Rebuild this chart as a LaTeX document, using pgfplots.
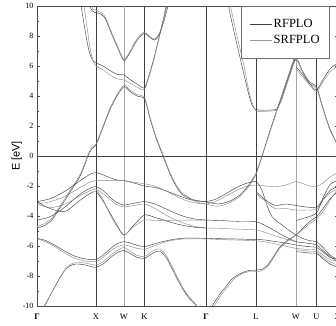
\documentclass[border=0pt]{standalone}
\usepackage{fontspec}
\setmainfont{Liberation Serif}
\newfontfamily\labelsans{Liberation Sans}
\usepackage{pgfplots}
\pgfplotsset{compat=1.18}
\pgfplotsset{
  R/.style={black!75, line width=0.45pt, smooth, tension=0.45, no marks, forget plot},
  S/.style={black!45, line width=0.45pt, smooth, tension=0.45, no marks, forget plot},
}
\begin{document}
\begin{tikzpicture}[x=1pt,y=1pt]
\useasboundingbox (0,0) rectangle (336,325);
\clip (0,0) rectangle (336,325);
\begin{axis}[
  at={(37pt,19pt)}, anchor=south west,
  width=300.5pt, height=300pt, scale only axis,
  xmin=37, xmax=337.5, ymin=-10, ymax=10,
  axis line style={black!70, line width=0.6pt},
  xtick={37,96,144.5,206,256,316.5,337.5},
  xticklabels={\textbf{Γ},X,K,\textbf{Γ},L,U,X},
  extra x ticks={124,296},
  extra x tick labels={W,W},
  extra x tick style={grid=major, major grid style={black!35, line width=0.9pt}},
  xmajorgrids, major grid style={black!75, line width=0.5pt},
  major x tick style={draw=none},
  xticklabel style={font=\fontsize{8.5}{9}\selectfont, yshift=-4pt},
  ytick={-10,-8,...,10},
  minor ytick={-9,-7,...,9},
  tick align=inside, major tick length=3pt, minor tick length=2pt,
  tick style={black!70},
  yticklabel style={font=\fontsize{8}{9}\selectfont},
  /pgf/number format/assume math mode=true,
  extra y ticks={0}, extra y tick labels={},
  extra y tick style={grid=major, major grid style={black!75, line width=0.5pt}},
  ylabel={E [eV]},
  ylabel style={font=\labelsans\fontsize{11}{13}\selectfont, yshift=-6pt},
  legend style={at={(0.679,1)}, anchor=north west, draw=black!55, line width=0.5pt,
    font=\fontsize{12.5}{14}\selectfont, inner xsep=8pt, inner ysep=11pt,
    row sep=2pt, cells={anchor=west}},
  legend image code/.code={\draw[#1] (0pt,0pt) -- (22pt,0pt);},
  clip=true,
]
\addlegendimage{black!75, line width=0.45pt}
\addlegendentry{RFPLO}
\addlegendimage{black!40, line width=0.45pt}
\addlegendentry{SRFPLO}

% ===== lowest band =====
\addplot[R] coordinates {(42,-10.3) (45,-9.93) (50,-9.3) (55,-8.7) (60,-8.1) (65,-7.6) (70,-7.32) (76,-7.2) (84,-7.25) (90,-7.35) (96,-7.42) (103,-7.2) (110,-6.8) (117,-6.45) (124,-6.3) (130,-6.5) (137,-6.75) (144.5,-6.82) (150,-6.6) (155,-6.4) (160,-6.35) (166,-6.75) (172,-7.5) (178,-8.3) (184,-9.0) (190,-9.55) (196,-9.95) (199,-10.2)};
\addplot[S] coordinates {(43,-10.3) (46,-9.85) (51,-9.2) (56,-8.6) (61,-8.0) (66,-7.5) (71,-7.2) (77,-7.1) (85,-7.13) (91,-7.22) (96,-7.27) (103,-7.05) (110,-6.65) (117,-6.3) (124,-6.1) (130,-6.35) (137,-6.62) (144.5,-6.71) (150,-6.45) (155,-6.25) (160,-6.2) (166,-6.6) (172,-7.35) (178,-8.15) (184,-8.9) (190,-9.45) (196,-9.9) (200,-10.2)};
\addplot[R] coordinates {(210,-10.3) (214,-9.8) (220,-9.2) (226,-8.7) (232,-8.2) (240,-7.85) (248,-7.65) (256,-7.6) (262,-7.55) (268,-7.25) (274,-6.65) (280,-6.05) (288,-5.6) (296,-5.27) (303,-4.8) (310,-4.35) (316.5,-4.05) (323,-3.5) (330,-2.85) (337.5,-2.38)};
\addplot[S] coordinates {(212,-10.3) (216,-9.8) (222,-9.2) (228,-8.7) (234,-8.2) (242,-7.85) (250,-7.7) (256,-7.71) (262,-7.65) (268,-7.35) (274,-6.75) (280,-6.15) (288,-5.65) (296,-5.27) (303,-4.9) (310,-4.5) (316.5,-4.2) (323,-3.7) (330,-2.95) (337.5,-2.22)};

% ===== lower d group =====
\addplot[R] coordinates {(37,-5.49) (45,-5.62) (55,-5.95) (65,-6.35) (75,-6.68) (85,-6.86) (96,-6.9) (103,-6.6) (110,-6.2) (117,-5.85) (124,-5.71) (130,-5.8) (137,-5.95) (144.5,-6.04) (150,-5.95) (160,-5.75) (170,-5.6) (180,-5.5) (190,-5.47) (206,-5.49)};
\addplot[S] coordinates {(37,-5.52) (45,-5.7) (55,-6.05) (65,-6.48) (75,-6.82) (85,-7.0) (96,-7.04) (103,-6.75) (110,-6.35) (117,-6.05) (124,-5.93) (130,-6.02) (137,-6.15) (144.5,-6.22) (150,-6.1) (160,-5.85) (170,-5.65) (180,-5.55) (190,-5.52) (206,-5.52)};
\addplot[R] coordinates {(206,-5.49) (215,-5.5) (225,-5.52) (235,-5.53) (245,-5.55) (256,-5.56) (265,-5.6) (275,-5.7) (285,-5.8) (296,-5.93) (303,-6.0) (310,-6.05) (316.5,-6.09) (323,-6.4) (330,-6.75) (337.5,-6.9)};
\addplot[S] coordinates {(206,-5.52) (215,-5.55) (225,-5.58) (235,-5.6) (245,-5.62) (256,-5.65) (265,-5.72) (275,-5.85) (285,-6.0) (296,-6.16) (303,-6.2) (310,-6.25) (316.5,-6.27) (323,-6.6) (330,-6.9) (337.5,-7.04)};
\addplot[R] coordinates {(296,-6.38) (303,-6.42) (310,-6.47) (316.5,-6.49) (323,-6.85) (330,-7.2) (337.5,-7.42)};
\addplot[S] coordinates {(296,-6.25) (303,-6.3) (310,-6.35) (316.5,-6.38) (323,-6.75) (330,-7.05) (337.5,-7.27)};

% ===== upper d bands =====
\addplot[R] coordinates {(37,-3.04) (50,-2.85) (65,-2.35) (80,-1.65) (90,-1.22) (96,-1.11) (103,-1.25) (110,-1.45) (117,-1.6) (124,-1.64) (134,-1.8) (144.5,-2.0) (155,-2.1) (165,-2.3) (175,-2.55) (185,-2.8) (195,-2.98) (206,-3.04)};
\addplot[S] coordinates {(37,-3.2) (50,-3.05) (65,-2.7) (80,-2.1) (90,-1.75) (96,-1.64) (103,-1.64) (110,-1.64) (117,-1.64) (124,-1.64) (134,-1.75) (144.5,-1.85) (155,-2.0) (165,-2.3) (175,-2.65) (185,-2.95) (195,-3.12) (206,-3.2)};
\addplot[R] coordinates {(37,-4.27) (50,-4.05) (65,-3.4) (80,-2.55) (90,-2.15) (96,-2.04) (103,-2.3) (110,-2.75) (117,-3.1) (124,-3.27) (134,-3.15) (144.5,-3.04) (155,-3.2) (165,-3.5) (175,-3.8) (185,-4.05) (195,-4.2) (206,-4.27)};
\addplot[S] coordinates {(37,-3.2) (50,-3.45) (65,-3.2) (80,-2.65) (90,-2.32) (96,-2.22) (103,-2.5) (110,-2.9) (117,-3.25) (124,-3.4) (134,-3.3) (144.5,-3.2) (155,-3.5) (165,-3.9) (175,-4.25) (185,-4.5) (195,-4.7) (206,-4.8)};
\addplot[R] coordinates {(37,-3.04) (50,-3.5) (65,-3.7) (80,-2.95) (90,-2.5) (96,-2.38) (103,-3.0) (110,-3.8) (117,-4.6) (124,-5.27) (134,-4.6) (144.5,-3.93) (155,-4.1) (165,-4.3) (175,-4.5) (185,-4.65) (195,-4.75) (206,-4.8)};
\addplot[S] coordinates {(96,-2.22) (103,-2.9) (110,-3.9) (117,-4.7) (124,-5.27) (134,-4.7) (144.5,-4.27) (155,-4.3) (165,-4.3) (175,-4.28) (185,-4.27) (206,-4.27)};

% Gamma-L-W-U-X d bands
\addplot[R] coordinates {(206,-3.04) (215,-2.9) (225,-2.55) (235,-2.15) (245,-1.85) (256,-1.71) (262,-2.3) (267,-3.3) (272,-4.04) (280,-4.5) (288,-4.9) (296,-5.27) (303,-5.5) (310,-5.65) (316.5,-5.71) (323,-6.1) (330,-6.6) (337.5,-6.9)};
\addplot[S] coordinates {(206,-3.2) (215,-3.05) (225,-2.7) (235,-2.35) (245,-2.05) (256,-1.93) (265,-2.0) (275,-2.05) (285,-1.95) (296,-1.71) (303,-1.85) (310,-2.0) (316.5,-2.04) (323,-1.8) (330,-1.4) (337.5,-1.11)};
\addplot[R] coordinates {(206,-4.27) (220,-4.3) (235,-4.35) (256,-4.38) (270,-4.8) (283,-5.3) (296,-5.71) (306,-5.8) (316.5,-5.93) (323,-6.3) (330,-6.7) (337.5,-7.04)};
\addplot[S] coordinates {(206,-4.8) (220,-4.82) (235,-4.87) (256,-4.93) (270,-5.2) (283,-5.5) (296,-5.71)};
\addplot[R] coordinates {(206,-3.04) (218,-3.2) (230,-3.0) (240,-2.6) (245,-2.25) (250,-1.82) (253,-1.5) (256,-1.16) (262,0.0) (270,1.7) (280,3.7) (288,5.3) (296,6.84)};
\addplot[S] coordinates {(206,-3.2) (218,-3.35) (230,-3.1) (240,-2.7) (245,-2.35) (250,-1.92) (253,-1.6) (256,-1.25) (262,-0.05) (270,1.6) (280,3.6) (288,5.2) (296,6.7)};
\addplot[R] coordinates {(256,-2.38) (265,-2.9) (275,-3.3) (285,-3.2) (296,-3.3) (306,-3.4) (316.5,-3.4) (323,-2.9) (330,-2.3) (337.5,-2.04)};
\addplot[S] coordinates {(256,-2.5) (265,-3.0) (275,-3.5) (285,-3.5) (296,-3.6) (306,-3.6) (316.5,-3.55) (323,-2.95) (330,-2.45) (337.5,-2.22)};
\addplot[R] coordinates {(296,-4.3) (306,-4.1) (316.5,-3.8) (323,-2.8) (330,-1.9) (337.5,-1.64)};

% ===== conduction / sp bands =====
\addplot[R] coordinates {(37,-4.8) (45,-4.62) (52,-4.25) (58,-3.65) (66,-2.85) (73,-2.1) (80,-1.35) (85,-0.55) (88,0.0) (92,0.5) (96,0.73) (103,1.9) (110,3.1) (117,4.0) (124,4.62) (130,4.3) (137,4.0) (144.5,3.8) (150,2.5) (156,1.2) (163,0.0) (170,-1.2) (176,-2.0) (182,-2.55) (190,-2.85) (198,-2.98) (206,-3.04)};
\addplot[S] coordinates {(37,-4.7) (45,-4.5) (52,-4.12) (58,-3.52) (66,-2.72) (73,-1.98) (80,-1.25) (85,-0.45) (88,0.08) (92,0.58) (96,0.8) (103,2.0) (110,3.2) (117,4.1) (124,4.72) (130,4.4) (137,4.1) (144.5,3.9) (150,2.6) (156,1.3) (163,0.1) (170,-1.1) (176,-1.9) (182,-2.45) (190,-2.8) (198,-3.1) (206,-3.2)};
\addplot[R] coordinates {(80,10.5) (84,8.8) (88,7.3) (91,6.6) (94,6.3) (96,6.2) (103,6.0) (110,5.7) (117,5.45) (124,5.4) (130,5.1) (137,4.8) (144.5,4.55) (150,5.6) (155,6.8) (160,8.2) (164,9.3) (167.5,10.5)};
\addplot[S] coordinates {(83,10.5) (87,8.6) (90,7.2) (93,6.35) (96,6.0) (103,5.75) (110,5.4) (117,5.15) (124,5.07) (130,4.85) (137,4.6) (144.5,4.45) (150,5.5) (155,6.7) (160,8.1) (164,9.3) (168,10.5)};
\addplot[R] coordinates {(86,10.5) (92,9.7) (96,9.55) (100,9.5) (105,9.2) (110,8.4) (117,7.3) (124,6.35) (130,6.9) (135,7.5) (140,7.95) (144.5,8.18) (150,7.9) (155,7.73) (160,8.2) (164,9.0) (168,10.0) (170,10.5)};
\addplot[S] coordinates {(88,10.5) (93,9.8) (96,9.7) (100,9.6) (105,9.3) (110,8.5) (117,7.4) (124,6.45) (130,7.0) (135,7.6) (140,8.05) (144.5,8.25) (150,7.95) (155,7.8) (160,8.3) (164,9.2) (167,10.0) (169,10.5)};
\addplot[R] coordinates {(227,10.5) (230,9.5) (235,8.0) (242,6.0) (248,4.3) (252,3.4) (256,3.1) (265,3.05) (272,3.07) (277,3.15) (282,3.9) (289,5.3) (296,6.5) (303,5.6) (310,4.9) (316.5,4.62) (323,3.2) (330,1.8) (337.5,0.73)};
\addplot[S] coordinates {(229,10.5) (232,9.5) (237,8.0) (244,6.0) (249,4.3) (253,3.4) (256,3.0) (265,2.98) (272,3.0) (277,3.1) (282,3.8) (289,5.2) (296,6.4) (303,5.5) (310,4.8) (316.5,4.5) (323,3.1) (330,1.7) (337.5,0.8)};
\addplot[R] coordinates {(296,5.96) (303,5.4) (310,4.8) (316.5,4.4) (323,5.1) (330,5.8) (337.5,6.2)};
\addplot[S] coordinates {(296,5.8) (303,5.25) (310,4.7) (316.5,4.3) (323,4.95) (330,5.6) (337.5,6.0)};
\end{axis}
\end{tikzpicture}
\end{document}
